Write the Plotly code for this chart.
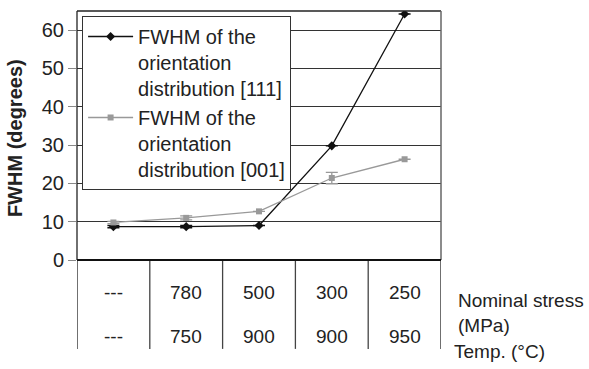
import plotly.graph_objects as go

# Sample conditions (one column each)
conditions = [0, 1, 2, 3, 4]
stress_labels = ["---", "780", "500", "300", "250"]
temp_labels = ["---", "750", "900", "900", "950"]

# FWHM of the orientation distributions (degrees)
fwhm_111 = [8.7, 8.7, 9.0, 29.8, 64.2]
fwhm_111_err = [0.3, 0.3, 0.0, 0.0, 0.0]
fwhm_001 = [9.8, 11.0, 12.7, 21.4, 26.3]
fwhm_001_err = [0.3, 0.5, 0.0, 1.5, 0.0]

FONT = "Liberation Sans, Arial, sans-serif"
TXT = "#222222"

fig = go.Figure()
fig.add_trace(go.Scatter(
    x=conditions, y=fwhm_111, mode="lines+markers",
    name="FWHM of the<br>orientation<br>distribution [111]",
    line=dict(color="#111111", width=1.3),
    marker=dict(symbol="diamond", size=7, color="#111111"),
    error_y=dict(type="data", array=fwhm_111_err, color="#111111", width=6, thickness=1.5),
))
fig.add_trace(go.Scatter(
    x=conditions, y=fwhm_001, mode="lines+markers",
    name="FWHM of the<br>orientation<br>distribution [001]",
    line=dict(color="#999999", width=1.3),
    marker=dict(symbol="square", size=6, color="#999999"),
    error_y=dict(type="data", array=fwhm_001_err, color="#999999", width=6, thickness=1.3),
))

shapes = []
# table column separators below the axis
for i in range(len(conditions) + 1):
    xb = i - 0.5
    shapes.append(dict(type="line", xref="x", yref="paper", x0=xb, x1=xb,
                       y0=0, y1=-0.357,
                       line=dict(color="#444444" if 0 < i < len(conditions) else "#222222", width=1.3)))
# frame around plotting area
shapes.append(dict(type="line", xref="paper", yref="paper", x0=0, x1=1, y0=1, y1=1,
                   line=dict(color="#222222", width=1.3)))
shapes.append(dict(type="line", xref="paper", yref="paper", x0=1, x1=1, y0=0, y1=1,
                   line=dict(color="#666666", width=1.5)))
shapes.append(dict(type="line", xref="paper", yref="paper", x0=0, x1=0, y0=0, y1=1,
                   line=dict(color="#222222", width=1.3)))
# zero baseline
shapes.append(dict(type="line", xref="paper", yref="paper", x0=0, x1=1, y0=0, y1=0,
                   line=dict(color="#111111", width=2.2)))

annotations = []
for xi, s, t in zip(conditions, stress_labels, temp_labels):
    annotations.append(dict(x=xi, y=-0.131, xref="x", yref="paper", text=s, showarrow=False,
                            font=dict(size=19, color=TXT, family=FONT), yanchor="middle"))
    annotations.append(dict(x=xi, y=-0.307, xref="x", yref="paper", text=t, showarrow=False,
                            font=dict(size=19, color=TXT, family=FONT), yanchor="middle"))

row_titles = [("Nominal stress", 456, 300), ("(MPa)", 456, 325), ("Temp. (\u00b0C)", 452, 351)]
for txt, px, py in row_titles:
    annotations.append(dict(x=(px - 77) / 364, y=(260 - py) / 249, xref="paper", yref="paper",
                            text=txt, showarrow=False, xanchor="left", yanchor="middle",
                            font=dict(size=19, color=TXT, family=FONT)))

annotations.append(dict(x=-0.17, y=(260 - 138) / 249, xref="paper", yref="paper",
                        text="<b>FWHM (degrees)</b>", showarrow=False, textangle=-90,
                        xanchor="center", yanchor="middle",
                        font=dict(size=20, color=TXT, family=FONT)))

fig.update_layout(
    width=589, height=369,
    margin=dict(l=77, r=148, t=11, b=109),
    paper_bgcolor="white", plot_bgcolor="white",
    font=dict(family=FONT, size=20, color=TXT),
    showlegend=True,
    legend=dict(x=0.014, y=0.98, xanchor="left", yanchor="top",
                bgcolor="white", bordercolor="#333333", borderwidth=1,
                font=dict(size=20, family=FONT, color=TXT),
                valign="top", tracegroupgap=0, itemwidth=45),
    xaxis=dict(range=[-0.5, 4.5], showticklabels=False, showgrid=False, zeroline=False,
               showline=False, ticks=""),
    yaxis=dict(range=[0, 65], tickvals=[0, 10, 20, 30, 40, 50, 60],
               showgrid=True, gridcolor="#333333", gridwidth=1,
               zeroline=False, showline=False, ticks="outside", ticklen=8,
               tickcolor="#888888", tickwidth=1.3,
               tickfont=dict(size=20, family=FONT, color=TXT)),
    shapes=shapes,
    annotations=annotations,
)

fig.write_html("out.html")
